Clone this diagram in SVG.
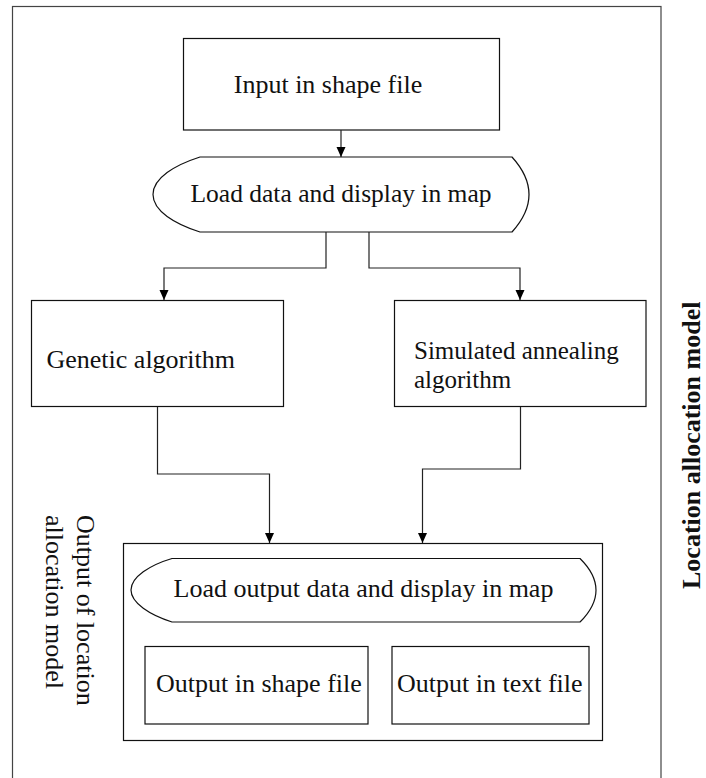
<svg xmlns="http://www.w3.org/2000/svg" width="706" height="778" viewBox="0 0 706 778">
<style>
.box{fill:#fff;stroke:#111;stroke-width:1.2}
.frame{fill:none;stroke:#444;stroke-width:1.2}
.conn{fill:none;stroke:#222;stroke-width:1.2}
.t{font-family:"Liberation Serif","Times New Roman",serif;font-size:26px;fill:#111}
.tb{font-family:"Liberation Serif","Times New Roman",serif;font-size:26px;font-weight:bold;fill:#111}
</style>
<defs>
<marker id="arr" markerUnits="userSpaceOnUse" markerWidth="10" markerHeight="10" refX="10" refY="4.5" orient="auto">
<path d="M0,0 L10,4.5 L0,9 Z" fill="#000"/>
</marker>
</defs>
<rect width="706" height="778" fill="#fff"/>
<g id="frame">
<rect class="frame" x="12.5" y="6.5" width="648.5" height="800"/>
<text class="tb" transform="translate(700,589) rotate(-90)">Location allocation model</text>
</g>
<g id="input">
<rect class="box" x="183.5" y="38.5" width="316" height="91.5"/>
<text class="t" x="328" y="93" text-anchor="middle">Input in shape file</text>
</g>
<g id="load">
<path class="box" d="M200,157 L512,157 Q546,194.5 512,232 L200,232 C175,224 153,211 153,194.5 C153,178 175,165 200,157 Z"/>
<text class="t" x="341" y="202" text-anchor="middle" style="font-size:25.5px">Load data and display in map</text>
</g>
<g id="ga">
<rect class="box" x="31.5" y="300.5" width="252" height="106"/>
<text class="t" x="46.5" y="368">Genetic algorithm</text>
</g>
<g id="sa">
<rect class="box" x="394.5" y="300.5" width="251.5" height="106"/>
<text class="t" x="414" y="359" style="font-size:25px">Simulated annealing</text>
<text class="t" x="414" y="388" style="font-size:25px">algorithm</text>
</g>
<g id="output">
<rect class="box" x="123.5" y="543.5" width="479" height="197"/>
<text class="t" transform="translate(77,515) rotate(90)">Output of location</text>
<text class="t" transform="translate(46,515) rotate(90)">allocation model</text>
</g>
<g id="loadout">
<path class="box" d="M172,558.5 L580,558.5 Q612,590 580,622 L172,622 C150,615 131,603 131,590 C131,577 150,565 172,558.5 Z"/>
<text class="t" x="363.5" y="597" text-anchor="middle">Load output data and display in map</text>
</g>
<g id="outshape">
<rect class="box" x="145" y="646.5" width="223" height="77.5"/>
<text class="t" x="156" y="692">Output in shape file</text>
</g>
<g id="outtext">
<rect class="box" x="392" y="646.5" width="197" height="77.5"/>
<text class="t" x="397" y="692">Output in text file</text>
</g>
<g id="connectors">
<path class="conn" d="M341,130 V157" marker-end="url(#arr)"/>
<path class="conn" d="M326,232 V268 H164 V300" marker-end="url(#arr)"/>
<path class="conn" d="M369,232 V268 H520 V300" marker-end="url(#arr)"/>
<path class="conn" d="M157.5,407 V474 H269.5 V543" marker-end="url(#arr)"/>
<path class="conn" d="M520.5,407 V469 H422.5 V543" marker-end="url(#arr)"/>
</g>
</svg>
